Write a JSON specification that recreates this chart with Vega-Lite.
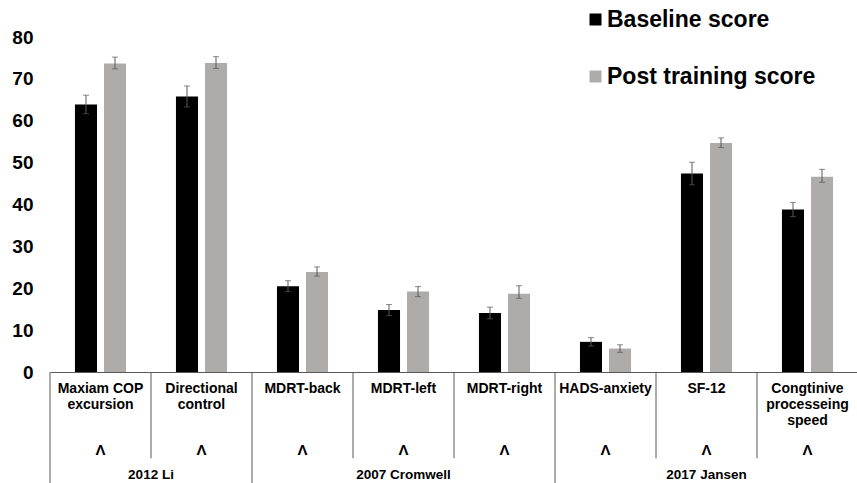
{
  "$schema": "https://vega.github.io/schema/vega-lite/v6.json",
  "width": 808,
  "height": 335,
  "autosize": {"type": "none"},
  "padding": {"left": 50, "top": 37, "right": 0, "bottom": 111},
  "background": "white",
  "config": {
    "view": {"stroke": null},
    "font": "Liberation Sans",
    "axisX": {"title": null, "labels": false, "ticks": false, "domain": true, "domainColor": "#595959", "domainWidth": 1, "grid": false},
    "axisY": {"title": null, "tickCount": 9, "grid": false, "domain": false, "ticks": false, "labelFontSize": 19, "labelFontWeight": "bold", "labelColor": "#000000", "labelFont": "Liberation Sans", "labelPadding": 17}
  },
  "datasets": {
    "scores": [
      {"category": "Maxiam COP excursion", "series": "Baseline score", "value": 63.9, "lo": 61.7, "hi": 66.1},
      {"category": "Maxiam COP excursion", "series": "Post training score", "value": 73.7, "lo": 72.4, "hi": 75.2},
      {"category": "Directional control", "series": "Baseline score", "value": 65.8, "lo": 63.3, "hi": 68.3},
      {"category": "Directional control", "series": "Post training score", "value": 73.8, "lo": 72.5, "hi": 75.3},
      {"category": "MDRT-back", "series": "Baseline score", "value": 20.5, "lo": 19.2, "hi": 21.8},
      {"category": "MDRT-back", "series": "Post training score", "value": 23.9, "lo": 22.9, "hi": 25.1},
      {"category": "MDRT-left", "series": "Baseline score", "value": 14.8, "lo": 13.5, "hi": 16.1},
      {"category": "MDRT-left", "series": "Post training score", "value": 19.2, "lo": 18.0, "hi": 20.4},
      {"category": "MDRT-right", "series": "Baseline score", "value": 14.1, "lo": 12.7, "hi": 15.5},
      {"category": "MDRT-right", "series": "Post training score", "value": 18.7, "lo": 17.6, "hi": 20.6},
      {"category": "HADS-anxiety", "series": "Baseline score", "value": 7.2, "lo": 6.2, "hi": 8.2},
      {"category": "HADS-anxiety", "series": "Post training score", "value": 5.6, "lo": 4.7, "hi": 6.5},
      {"category": "SF-12", "series": "Baseline score", "value": 47.4, "lo": 44.7, "hi": 50.1},
      {"category": "SF-12", "series": "Post training score", "value": 54.7, "lo": 53.6, "hi": 55.9},
      {"category": "Congtinive processeing speed", "series": "Baseline score", "value": 38.8, "lo": 37.1, "hi": 40.5},
      {"category": "Congtinive processeing speed", "series": "Post training score", "value": 46.6, "lo": 45.3, "hi": 48.4}
    ],
    "labels": [
      {"category": "Maxiam COP excursion", "text": "Maxiam COP\nexcursion", "sig": "Λ"},
      {"category": "Directional control", "text": "Directional\ncontrol", "sig": "Λ"},
      {"category": "MDRT-back", "text": "MDRT-back", "sig": "Λ"},
      {"category": "MDRT-left", "text": "MDRT-left", "sig": "Λ"},
      {"category": "MDRT-right", "text": "MDRT-right", "sig": "Λ"},
      {"category": "HADS-anxiety", "text": "HADS-anxiety", "sig": "Λ"},
      {"category": "SF-12", "text": "SF-12", "sig": "Λ"},
      {"category": "Congtinive processeing speed", "text": "Congtinive\nprocesseing\nspeed", "sig": "Λ"}
    ],
    "dividers": [
      {"category": "Maxiam COP excursion", "kind": "group"},
      {"category": "Directional control", "kind": "inner"},
      {"category": "MDRT-back", "kind": "group"},
      {"category": "MDRT-left", "kind": "inner"},
      {"category": "MDRT-right", "kind": "inner"},
      {"category": "HADS-anxiety", "kind": "group"},
      {"category": "SF-12", "kind": "inner"},
      {"category": "Congtinive processeing speed", "kind": "inner"}
    ],
    "groups": [
      {"category": "Directional control", "group": "2012 Li"},
      {"category": "MDRT-left", "group": "2007 Cromwell"},
      {"category": "SF-12", "group": "2017 Jansen"}
    ]
  },
  "layer": [
    {
      "data": {"name": "scores"},
      "mark": {"type": "bar"},
      "encoding": {
        "x": {
          "field": "category", "type": "nominal", "title": null,
          "scale": {"domain": ["Maxiam COP excursion", "Directional control", "MDRT-back", "MDRT-left", "MDRT-right", "HADS-anxiety", "SF-12", "Congtinive processeing speed"], "paddingInner": 0, "paddingOuter": 0}
        },
        "xOffset": {
          "field": "series", "type": "nominal",
          "scale": {"domain": ["Baseline score", "Post training score"], "paddingInner": 0.24, "paddingOuter": 0.86}
        },
        "y": {
          "field": "value", "type": "quantitative", "title": null,
          "scale": {"domain": [0, 80], "nice": false, "zero": true}
        },
        "color": {
          "field": "series", "type": "nominal",
          "scale": {"domain": ["Baseline score", "Post training score"], "range": ["#000000", "#AEABAB"]},
          "legend": {"title": null, "orient": "none", "legendX": 534, "legendY": -29, "direction": "vertical", "symbolType": "square", "symbolSize": 144, "symbolStrokeWidth": 0, "labelFontSize": 23, "labelFontWeight": "bold", "labelFont": "Liberation Sans", "labelColor": "#000000", "labelOffset": 0, "rowPadding": 33, "labelLimit": 400, "padding": 0}
        }
      }
    },
    {
      "data": {"name": "scores"},
      "mark": {"type": "rule", "color": "#595959", "strokeWidth": 1},
      "encoding": {
        "x": {"field": "category", "type": "nominal", "title": null},
        "xOffset": {"field": "series", "type": "nominal"},
        "y": {"field": "lo", "type": "quantitative", "title": null},
        "y2": {"field": "hi"}
      }
    },
    {
      "data": {"name": "scores"},
      "mark": {"type": "tick", "color": "#595959", "thickness": 1, "size": 6},
      "encoding": {
        "x": {"field": "category", "type": "nominal", "title": null},
        "xOffset": {"field": "series", "type": "nominal"},
        "y": {"field": "lo", "type": "quantitative", "title": null}
      }
    },
    {
      "data": {"name": "scores"},
      "mark": {"type": "tick", "color": "#595959", "thickness": 1, "size": 6},
      "encoding": {
        "x": {"field": "category", "type": "nominal", "title": null},
        "xOffset": {"field": "series", "type": "nominal"},
        "y": {"field": "hi", "type": "quantitative", "title": null}
      }
    },
    {
      "data": {"name": "dividers"},
      "transform": [{"filter": "datum.kind === 'inner'"}],
      "mark": {"type": "rule", "color": "#595959", "strokeWidth": 1},
      "encoding": {
        "x": {"field": "category", "type": "nominal", "bandPosition": 0, "title": null},
        "y": {"datum": 0, "type": "quantitative", "title": null},
        "y2": {"datum": -20.6}
      }
    },
    {
      "data": {"name": "dividers"},
      "transform": [{"filter": "datum.kind === 'group'"}],
      "mark": {"type": "rule", "color": "#595959", "strokeWidth": 1},
      "encoding": {
        "x": {"field": "category", "type": "nominal", "bandPosition": 0, "title": null},
        "y": {"datum": 0, "type": "quantitative", "title": null},
        "y2": {"datum": -27}
      }
    },
    {
      "data": {"name": "labels"},
      "mark": {"type": "text", "baseline": "top", "align": "center", "lineBreak": "\n", "fontSize": 14, "fontWeight": "bold", "lineHeight": 16.3, "color": "#000000", "font": "Liberation Sans"},
      "encoding": {
        "x": {"field": "category", "type": "nominal", "title": null},
        "y": {"datum": -2.3, "type": "quantitative", "title": null},
        "text": {"field": "text"}
      }
    },
    {
      "data": {"name": "labels"},
      "mark": {"type": "text", "baseline": "middle", "align": "center", "fontSize": 15, "fontWeight": "bold", "color": "#000000", "font": "Liberation Sans"},
      "encoding": {
        "x": {"field": "category", "type": "nominal", "title": null},
        "y": {"datum": -18.7, "type": "quantitative", "title": null},
        "text": {"field": "sig"}
      }
    },
    {
      "data": {"name": "groups"},
      "transform": [{"filter": "datum.group === '2012 Li'"}],
      "mark": {"type": "text", "baseline": "middle", "align": "center", "fontSize": 13.5, "fontWeight": "bold", "color": "#000000", "font": "Liberation Sans"},
      "encoding": {
        "x": {"field": "category", "type": "nominal", "bandPosition": 0, "title": null},
        "y": {"datum": -24.5, "type": "quantitative", "title": null},
        "text": {"field": "group"}
      }
    },
    {
      "data": {"name": "groups"},
      "transform": [{"filter": "datum.group !== '2012 Li'"}],
      "mark": {"type": "text", "baseline": "middle", "align": "center", "fontSize": 13.5, "fontWeight": "bold", "color": "#000000", "font": "Liberation Sans"},
      "encoding": {
        "x": {"field": "category", "type": "nominal", "title": null},
        "y": {"datum": -24.5, "type": "quantitative", "title": null},
        "text": {"field": "group"}
      }
    }
  ]
}
